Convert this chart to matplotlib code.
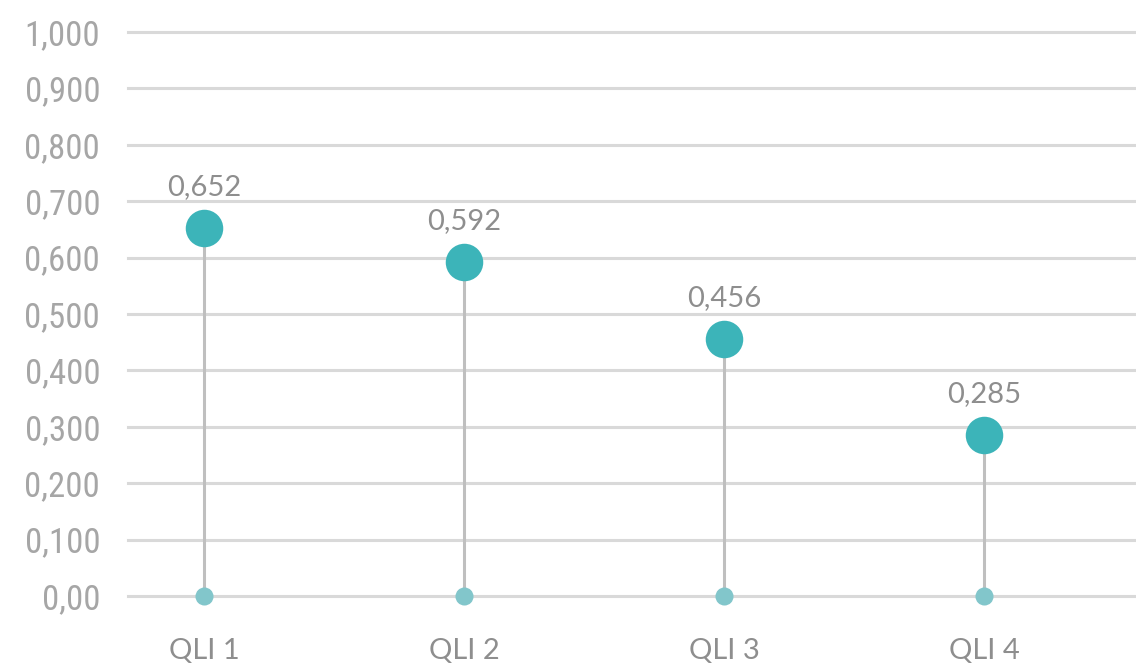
import matplotlib.pyplot as plt
from matplotlib.ticker import FixedLocator

categories = ["QLI 1", "QLI 2", "QLI 3", "QLI 4"]
values = [0.652, 0.592, 0.456, 0.285]
yticks = [0.0, 0.1, 0.2, 0.3, 0.4, 0.5, 0.6, 0.7, 0.8, 0.9, 1.0]
ytick_labels = ["0,00", "0,100", "0,200", "0,300", "0,400", "0,500",
                "0,600", "0,700", "0,800", "0,900", "1,000"]

teal = "#3cb4b9"
teal_light = "#82c6cb"
stem_grey = "#bfbfbf"
grid_grey = "#d9d9d9"
text_grey = "#8e8e8e"
narrow = ["Roboto Condensed", "Liberation Sans Narrow", "DejaVu Sans"]

fig = plt.figure(figsize=(11.36, 6.66), dpi=100)
ax = fig.add_axes([128 / 1136, 70 / 666, 1 - 128 / 1136, 564 / 666])

x = list(range(len(categories)))
for xi, v in zip(x, values):
    ax.plot([xi, xi], [0, v], color=stem_grey, lw=2.2, zorder=2,
            solid_capstyle="butt")
ax.plot(x, [0] * len(x), "o", color=teal_light, ms=13, mec="none",
        zorder=3, clip_on=False)
ax.plot(x, values, "o", color=teal, ms=27, mec="none", zorder=4,
        clip_on=False)

for xi, v in zip(x, values):
    ax.annotate(f"{v:.3f}".replace(".", ","), (xi, v), xytext=(0, 20),
                textcoords="offset points", ha="center", va="bottom",
                fontsize=21, color=text_grey, family="Lato")

ax.set_xlim(-76 / 260, 3 + 152 / 260)
ax.set_ylim(0, 1.0)
ax.yaxis.set_major_locator(FixedLocator(yticks))
ax.set_yticklabels(ytick_labels, family=narrow, fontstretch="condensed",
                   fontsize=25, color="#a6a6a6")
ax.set_xticks(x)
ax.set_xticklabels(categories, family="Lato", fontsize=21, color=text_grey)
ax.tick_params(axis="both", length=0)
ax.tick_params(axis="y", pad=20)
ax.tick_params(axis="x", pad=30)
ax.grid(axis="y", color=grid_grey, lw=2.2, zorder=0)
ax.set_axisbelow(True)
for line in ax.get_ygridlines():
    line.set_clip_on(False)
for s in ax.spines.values():
    s.set_visible(False)

fig.savefig("out.png", dpi=100)
